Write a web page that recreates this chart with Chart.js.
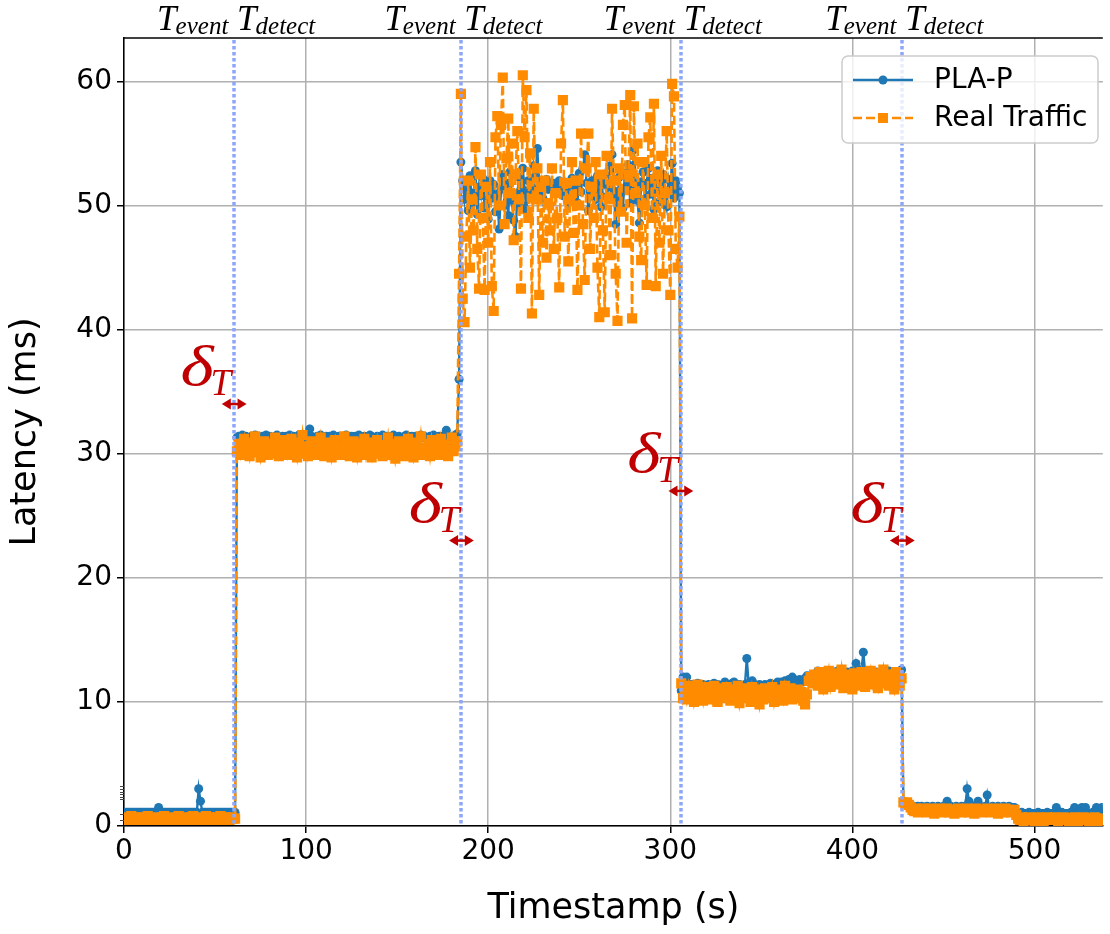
<!DOCTYPE html>
<html><head><meta charset="utf-8">
<script src="https://cdn.jsdelivr.net/npm/chart.js@4.4.1/dist/chart.umd.min.js"></script>
<style>html,body{margin:0;padding:0;background:#fff}#wrap{width:1110px;height:934px}</style>
</head><body><div id="wrap"><canvas id="c" width="1110" height="934"></canvas></div>
<script>
// Sampling: one sample per second, starting at t = 0 s
const startTime = 0;
const sampleStep = 1;

// PLA-P latency (ms)
const plapLatency = [
1.1,1.1,1.1,1.1,1.1,1.1,1.1,1.1,1.1,1.1,
1.1,1.1,1.1,1.1,1.1,1.1,1.1,1.1,1.1,1.5,
1.1,1.1,1.1,1.1,1.1,1.1,1.1,1.1,1.1,1.1,
1.1,1.1,1.1,1.1,1.1,1.1,1.1,1.1,1.1,1.1,
1.1,3.0,2.0,1.1,1.1,1.1,1.1,1.1,1.1,1.1,
1.1,1.1,1.1,1.1,1.1,1.1,1.1,1.1,1.1,1.1,
1.1,1.1,
31.3,31.4,31.3,31.5,31.3,31.4,31.3,31.3,31.4,31.3,
31.5,31.4,31.3,31.3,31.4,31.3,31.5,31.3,31.4,31.3,
31.3,31.4,31.5,31.3,31.3,31.4,31.3,31.4,31.3,31.5,
31.3,31.4,31.3,31.3,31.5,31.4,31.3,31.3,31.4,31.5,
32.0,31.4,31.3,31.3,31.4,31.3,31.5,31.3,31.3,31.4,
31.3,31.4,31.3,31.5,31.3,31.3,31.4,31.3,31.3,31.4,
31.5,31.3,31.3,31.4,31.3,31.4,31.3,31.5,31.3,31.3,
31.4,31.3,31.3,31.5,31.4,31.3,31.3,31.4,31.3,31.3,
31.5,31.3,31.4,31.3,31.3,31.4,31.5,31.3,31.3,31.4,
31.3,31.3,31.4,31.5,31.3,31.3,31.4,31.3,31.4,31.3,
31.3,31.5,31.3,31.4,31.3,31.3,31.4,31.3,31.5,31.3,
31.3,31.4,31.3,31.4,31.5,31.9,31.4,31.3,31.3,31.4,
31.5,31.6,
36.0,53.5,
52.0,50.5,51.8,49.6,52.4,50.2,51.0,52.8,49.3,51.5,
50.8,52.2,49.8,51.4,48.9,52.0,50.6,51.7,49.5,50.9,
48.1,51.3,52.5,50.0,51.8,49.2,52.7,50.4,48.8,47.5,
51.0,52.3,50.1,53.0,51.2,49.6,52.0,50.8,51.5,53.2,
52.4,54.6,51.0,51.9,50.6,51.6,52.1,51.3,51.7,51.5,
51.8,51.2,51.6,52.0,51.4,50.8,51.9,51.5,50.3,51.7,
52.2,50.9,51.4,50.2,52.6,51.1,53.0,54.1,51.8,49.6,
50.8,52.0,51.3,50.5,52.4,51.0,49.9,51.8,52.5,50.7,
51.5,53.2,54.1,51.2,48.5,50.6,52.3,51.0,49.8,52.6,
51.4,53.3,50.2,52.0,54.5,51.6,50.4,48.6,51.9,52.7,
50.5,51.8,53.0,50.9,52.2,49.7,51.5,52.8,50.3,51.9,
52.5,50.8,49.9,52.1,51.3,53.4,50.6,52.0,51.5,51.0,
10.9,12.0,11.6,12.0,11.4,
11.3,11.4,11.2,11.3,11.5,11.3,11.2,11.4,11.3,11.3,
11.4,11.2,11.3,11.5,11.3,11.4,11.2,11.3,11.4,11.6,
11.3,11.4,11.3,11.5,11.6,11.3,11.2,11.4,11.3,11.3,
11.4,13.5,11.5,11.3,11.7,11.4,11.3,11.2,11.4,11.3,
11.3,11.4,11.2,11.3,11.5,11.4,11.3,11.4,11.6,11.5,
11.6,11.5,11.7,11.6,11.8,11.7,12.0,11.8,11.6,11.7,
11.8,11.7,11.6,11.9,12.1,12.0,12.1,12.0,12.2,12.1,
12.5,12.2,12.3,12.1,12.2,12.0,12.3,11.6,12.2,12.4,
12.3,12.5,12.2,12.4,12.3,12.1,12.4,12.2,12.3,12.5,
12.2,13.1,12.4,12.2,12.6,14.0,12.3,12.4,12.2,12.5,
12.3,12.2,12.4,12.1,12.3,12.4,12.2,12.3,12.5,12.5,
12.3,12.2,12.4,12.1,12.3,12.4,12.6,
2.0,1.9,1.8,
1.6,1.6,1.5,1.6,1.5,1.6,1.5,1.6,1.5,1.5,
1.6,1.5,1.5,1.6,1.5,1.5,1.6,1.5,1.5,1.6,
1.5,2.0,1.5,1.6,1.5,1.5,1.6,1.5,1.5,1.6,
1.5,1.6,3.0,2.0,1.5,1.6,1.5,1.5,2.0,1.6,
1.5,1.5,1.6,2.5,1.5,1.5,1.6,1.5,1.5,1.6,
1.5,1.5,1.6,1.5,1.5,1.6,1.5,1.5,1.5,
1.1,
1.0,1.0,1.1,1.0,1.0,1.0,1.1,1.0,1.0,1.0,
1.0,1.1,1.0,1.0,1.0,1.0,1.1,1.0,1.0,1.0,
1.0,1.5,1.0,1.0,1.1,1.0,1.0,1.0,1.0,1.1,
1.0,1.5,1.0,1.0,1.0,1.5,1.0,1.5,1.0,1.0,
1.0,1.1,1.0,1.5,1.0,1.0,1.5,1.0
];

// Real traffic latency (ms)
const realTrafficLatency = [
0.6,0.7,0.5,0.6,0.8,0.6,0.5,0.7,0.6,0.6,
0.7,0.5,0.6,0.8,0.6,0.5,0.6,0.7,0.6,0.5,
0.6,0.7,0.8,0.6,0.5,0.6,0.6,0.7,0.5,0.6,
0.8,0.6,0.5,0.7,0.6,0.6,0.5,0.7,0.8,0.6,
0.5,0.6,0.7,0.6,0.5,0.8,0.6,0.7,0.6,0.5,
0.6,0.7,0.6,0.8,0.5,0.6,0.7,0.6,0.5,0.7,
0.6,0.6,
30.2,30.8,29.9,30.5,31.2,30.0,30.6,29.8,30.9,30.3,
31.4,30.1,30.7,29.7,30.5,31.0,30.2,29.9,30.8,30.4,
30.0,31.3,30.6,29.8,30.3,31.1,30.0,30.7,29.9,30.5,
31.2,30.1,30.4,29.7,30.9,30.3,31.5,30.0,30.6,29.8,
30.5,31.0,30.2,29.9,30.7,30.4,31.3,30.0,29.8,30.6,
30.1,30.9,29.7,30.4,31.1,30.2,30.6,29.9,30.5,31.4,
30.0,30.7,29.8,30.3,31.0,30.5,29.7,30.8,30.1,30.4,
31.2,29.9,30.6,30.2,29.7,30.9,30.3,31.1,30.0,30.5,
29.8,30.7,30.2,31.3,29.9,30.4,30.8,29.6,30.5,31.0,
30.1,30.6,29.8,30.3,31.2,30.0,30.7,29.7,30.4,30.9,
30.2,31.4,29.9,30.5,30.1,30.8,29.8,31.1,30.3,30.0,
30.6,29.9,31.2,30.4,30.0,30.7,29.8,30.5,31.3,30.2,
30.6,31.0,
44.5,59.0,
42.5,40.6,47.5,52.0,45.0,50.5,48.0,54.7,46.5,43.3,
52.5,49.0,43.2,51.5,47.0,53.5,43.5,41.5,55.5,57.2,
50.0,56.5,60.3,48.5,53.8,57.0,51.0,55.0,47.2,52.5,
56.0,50.5,43.3,60.5,55.5,59.3,49.0,54.2,41.3,57.8,
50.5,53.0,42.8,51.5,47.0,52.0,45.8,50.2,48.0,53.0,
46.5,51.0,49.0,43.4,55.0,58.5,47.5,51.8,45.5,50.5,
53.5,47.8,52.0,43.2,50.0,55.8,48.5,44.0,53.0,55.8,
46.5,51.5,49.0,53.5,45.0,41.0,52.5,48.0,41.4,54.0,
50.5,46.0,57.8,52.0,44.5,40.7,53.0,49.5,56.5,58.1,
47.0,52.5,58.9,40.9,58.0,51.0,55.0,47.5,45.6,53.5,
50.0,43.6,55.5,57.1,49.0,58.2,43.5,52.5,47.0,54.0,
44.5,51.0,56.0,48.0,42.8,59.8,58.8,46.5,45.0,49.1,
11.5,10.3,11.0,10.2,11.3,
10.5,11.1,10.0,10.8,11.4,10.3,10.9,10.1,11.2,10.6,
10.4,11.0,10.2,11.3,10.7,10.0,11.1,10.5,10.9,10.3,
11.2,10.6,10.1,10.8,11.0,10.4,11.3,9.9,10.7,10.5,
11.1,10.3,10.8,10.0,11.2,10.6,10.4,11.0,9.8,10.7,
10.2,11.1,10.5,10.9,10.3,11.2,10.0,10.8,10.4,11.0,
10.6,10.1,11.3,10.7,10.4,11.1,10.2,10.9,10.6,11.0,
10.3,10.8,10.1,9.8,10.6,11.7,12.0,11.5,12.2,11.8,
11.3,12.4,11.6,11.0,12.1,11.7,12.5,11.2,11.9,12.3,
11.4,12.0,11.6,12.6,11.1,11.8,12.2,11.5,11.9,11.0,
12.3,11.6,12.0,11.3,12.4,11.7,11.2,12.1,11.8,12.5,
11.4,12.0,11.6,11.1,12.3,11.7,12.6,11.5,11.9,11.3,
12.2,11.6,11.0,12.4,11.8,11.3,11.9,
1.9,1.8,1.9,
1.7,1.5,1.3,1.2,1.4,1.1,1.3,1.2,1.4,1.2,
1.1,1.3,1.4,1.2,1.0,1.3,1.2,1.4,1.1,1.3,
1.2,1.4,1.1,1.3,1.2,1.0,1.3,1.4,1.2,1.1,
1.3,1.2,1.4,1.1,1.3,1.2,1.0,1.4,1.2,1.3,
1.1,1.3,1.2,1.4,1.2,1.1,1.3,1.2,1.4,1.0,
1.3,1.2,1.1,1.4,1.2,1.3,1.1,1.2,1.3,
0.9,
0.6,0.5,0.7,0.4,0.6,0.5,0.7,0.5,0.6,0.4,
0.6,0.7,0.5,0.6,0.4,0.5,0.7,0.6,0.5,0.6,
0.7,0.5,0.4,0.6,0.5,0.7,0.6,0.5,0.4,0.6,
0.5,0.7,0.6,0.4,0.5,0.6,0.7,0.5,0.6,0.4,
0.6,0.5,0.7,0.6,0.4,0.5,0.6,0.5
];

const seriesNames = ['PLA-P', 'Real Traffic'];
// event annotation times (s) and the latency level of the delta-T arrows (ms)
const eventTimes = [60.5, 185.3, 305.8, 427.4];
const deltaArrowLatency = [34, 23, 27, 23];
const axisLimits = {xMin: 0, xMax: 537.5, yMin: 0, yMax: 63.5};

const BLUE = '#1f77b4', ORANGE = '#ff8c00', RED = '#c00000', VLINE = 'rgb(140,166,250)';
const toXY = arr => arr.map((v, i) => ({x: startTime + i * sampleStep, y: v}));

const overlay = {
  id: 'overlay',
  afterDatasetsDraw(chart) {
    const {ctx, chartArea: a, scales: {x}} = chart;
    ctx.save();
    ctx.beginPath(); ctx.rect(a.left, a.top, a.right - a.left, a.bottom - a.top); ctx.clip();
    ctx.strokeStyle = VLINE; ctx.lineWidth = 3.5; ctx.lineCap = 'butt'; ctx.setLineDash([3.5, 2.5]);
    eventTimes.forEach(t => {
      const px = Math.round(x.getPixelForValue(t));
      ctx.beginPath(); ctx.moveTo(px, a.top + 2); ctx.lineTo(px, a.bottom); ctx.stroke();
    });
    ctx.restore();
  },
  afterDraw(chart) {
    const {ctx, chartArea: a, scales: {x, y}} = chart;
    ctx.save();
    // top spine
    ctx.strokeStyle = '#000'; ctx.lineWidth = 1.5;
    ctx.beginPath(); ctx.moveTo(a.left, a.top); ctx.lineTo(a.right, a.top); ctx.stroke();
    // small minor ticks near zero on y axis
    ctx.strokeStyle = '#444'; ctx.lineWidth = 1;
    [0.5, 1.0, 2.15, 2.35, 2.6, 2.77, 2.95, 3.2].forEach(v => {
      const py = Math.round(y.getPixelForValue(v)) + 0.5;
      ctx.beginPath(); ctx.moveTo(a.left - 4, py); ctx.lineTo(a.left, py); ctx.stroke();
    });
    // top labels T_event T_detect
    const bigF = 'italic 35px "Liberation Serif"', subF = 'italic 25px "Liberation Serif"';
    ctx.fillStyle = '#000'; ctx.textBaseline = 'alphabetic'; ctx.textAlign = 'left';
    const mw = (f, s) => { ctx.font = f; return ctx.measureText(s).width; };
    eventTimes.forEach(t => {
      const cx = x.getPixelForValue(t) + 2;
      const parts = [[bigF, 'T', 30], [subF, 'event', 34], [bigF, ' ', 30], [bigF, 'T', 30], [subF, 'detect', 34]];
      const total = parts.reduce((s, p) => s + mw(p[0], p[1]) + (p[1] === 'T' ? -1 : 0), 0);
      let px = cx - total / 2;
      parts.forEach(p => { ctx.font = p[0]; ctx.fillText(p[1], px, p[2]); px += ctx.measureText(p[1]).width + (p[1] === 'T' ? -1 : 0); });
    });
    // delta T labels and arrows
    const dF = 'italic 57px "Liberation Serif"', tF = 'italic 37px "Liberation Serif"';
    const textShift = [-3, -2, -3, -1];
    const stretch = 1.25;
    ctx.fillStyle = RED; ctx.strokeStyle = RED;
    eventTimes.forEach((t, i) => {
      const lx = x.getPixelForValue(t);
      const ay = y.getPixelForValue(deltaArrowLatency[i]);
      const wD = mw(dF, 'δ') * stretch, wT = mw(tF, 'T');
      const right = lx + textShift[i];
      ctx.save();
      ctx.translate(right - wT - wD + 3, ay - 19);
      ctx.scale(stretch, 1);
      ctx.font = dF; ctx.fillText('δ', 0, 0);
      ctx.restore();
      ctx.font = tF; ctx.fillText('T', right - wT, ay - 9);
      const x1 = x.getPixelForValue(t - 6.8), x2 = x.getPixelForValue(t + 6.8);
      ctx.lineWidth = 2.5;
      ctx.beginPath(); ctx.moveTo(x1 + 6, ay); ctx.lineTo(x2 - 6, ay); ctx.stroke();
      ctx.beginPath(); ctx.moveTo(x1, ay); ctx.lineTo(x1 + 9, ay - 5.5); ctx.lineTo(x1 + 9, ay + 5.5); ctx.closePath(); ctx.fill();
      ctx.beginPath(); ctx.moveTo(x2, ay); ctx.lineTo(x2 - 9, ay - 5.5); ctx.lineTo(x2 - 9, ay + 5.5); ctx.closePath(); ctx.fill();
    });
    // legend
    const bx = 842, by = 56, bw = 256, bh = 87, r = 6;
    ctx.fillStyle = 'rgba(255,255,255,0.8)'; ctx.strokeStyle = '#cccccc'; ctx.lineWidth = 1.5;
    ctx.beginPath();
    ctx.moveTo(bx + r, by); ctx.lineTo(bx + bw - r, by); ctx.arcTo(bx + bw, by, bx + bw, by + r, r);
    ctx.lineTo(bx + bw, by + bh - r); ctx.arcTo(bx + bw, by + bh, bx + bw - r, by + bh, r);
    ctx.lineTo(bx + r, by + bh); ctx.arcTo(bx, by + bh, bx, by + bh - r, r);
    ctx.lineTo(bx, by + r); ctx.arcTo(bx, by, bx + r, by, r); ctx.closePath();
    ctx.fill(); ctx.stroke();
    const rows = [80, 118];
    chart.data.datasets.forEach((ds, i) => {
      const ry = rows[i];
      ctx.strokeStyle = ds.borderColor; ctx.fillStyle = ds.borderColor; ctx.lineWidth = ds.borderWidth;
      ctx.setLineDash(ds.borderDash || []);
      ctx.beginPath(); ctx.moveTo(853, ry); ctx.lineTo(913, ry); ctx.stroke();
      ctx.setLineDash([]);
      if (ds.pointStyle === 'rect') { ctx.fillRect(883 - 5, ry - 5, 10, 10); }
      else { ctx.beginPath(); ctx.arc(883, ry, 4.5, 0, Math.PI * 2); ctx.fill(); }
      ctx.fillStyle = '#000'; ctx.font = '28px "DejaVu Sans"'; ctx.textBaseline = 'middle';
      ctx.fillText(ds.label, 934, ry + 1);
      ctx.textBaseline = 'alphabetic';
    });
    ctx.restore();
  }
};

new Chart(document.getElementById('c'), {
  type: 'line',
  data: {
    datasets: [
      {label: seriesNames[0], data: toXY(plapLatency), borderColor: BLUE, backgroundColor: BLUE,
       borderWidth: 2.4, pointRadius: 4.5, pointBorderWidth: 0, pointBackgroundColor: BLUE,
       pointStyle: 'circle', tension: 0, order: 2},
      {label: seriesNames[1], data: toXY(realTrafficLatency), borderColor: ORANGE, backgroundColor: ORANGE,
       borderWidth: 2.6, borderDash: [9, 4], pointRadius: 7.2, pointBorderWidth: 0, pointBackgroundColor: ORANGE,
       pointStyle: 'rect', tension: 0, order: 1}
    ]
  },
  options: {
    responsive: false, animation: false, events: [],
    layout: {padding: {top: 38, right: 0, left: 0, bottom: 0}},
    plugins: {legend: {display: false}, tooltip: {enabled: false}},
    scales: {
      x: {
        type: 'linear', min: axisLimits.xMin, max: axisLimits.xMax,
        afterFit: s => { s.height = 108; },
        ticks: {stepSize: 100, includeBounds: false, color: '#000', padding: 2,
                font: {family: 'DejaVu Sans', size: 28}},
        grid: {color: '#b0b0b0', lineWidth: 1.5, tickColor: '#000', tickLength: 7, tickWidth: 1.5},
        border: {color: '#000', width: 1.5},
        title: {display: true, text: 'Timestamp (s)', color: '#000', padding: {top: 0, bottom: 4},
                font: {family: 'DejaVu Sans', size: 35}}
      },
      y: {
        type: 'linear', min: axisLimits.yMin, max: axisLimits.yMax,
        afterFit: s => { s.width = 124; },
        ticks: {stepSize: 10, includeBounds: false, color: '#000', padding: 5,
                font: {family: 'DejaVu Sans', size: 28}},
        grid: {color: '#b0b0b0', lineWidth: 1.5, tickColor: '#000', tickLength: 7, tickWidth: 1.5},
        border: {color: '#000', width: 1.5},
        title: {display: true, text: 'Latency (ms)', color: '#000', padding: {top: 5, bottom: 0},
                font: {family: 'DejaVu Sans', size: 35}}
      }
    }
  },
  plugins: [overlay]
});
</script></body></html>
